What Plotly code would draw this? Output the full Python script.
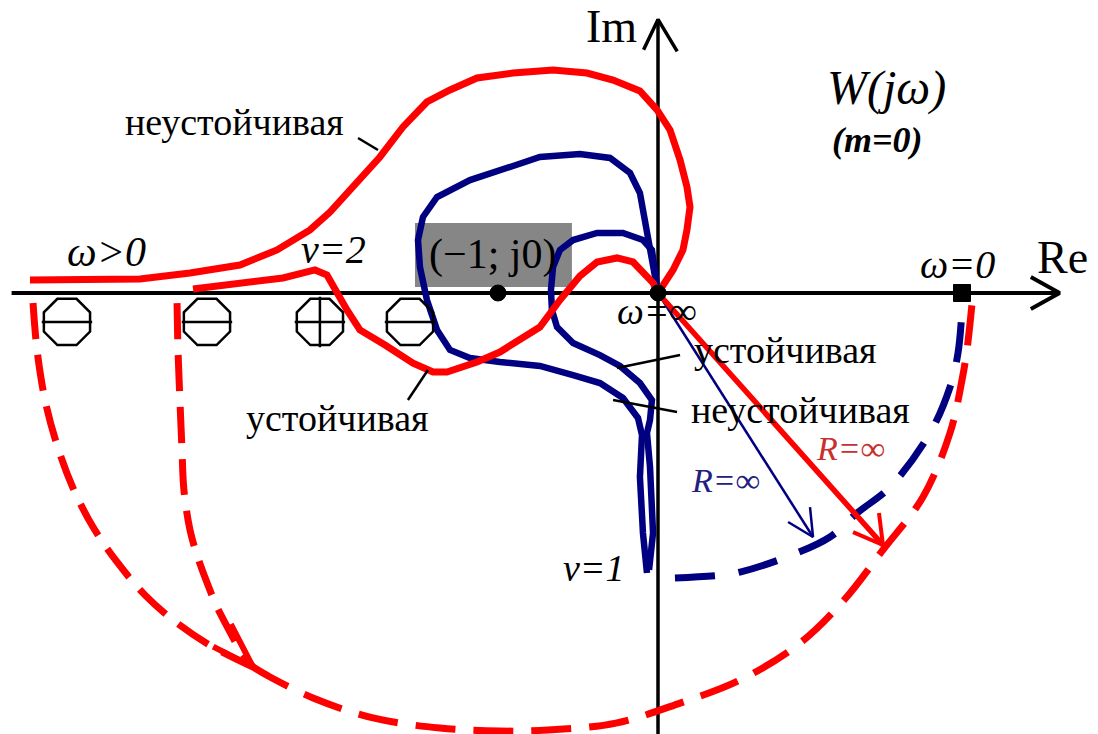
import plotly.graph_objects as go

# ---- Nyquist plot W(jw), m = 0 : curves in Re / Im units ----

# red, unstable (omega > 0 branch coming from the left, big upper loop)
red_unstable_re = [-3.925, -3.55, -3.238, -2.925, -2.613, -2.381, -2.175, -2.05, -1.819, -1.738,
                   -1.594, -1.444, -1.3, -1.131, -0.906, -0.656, -0.444, -0.281, -0.113, -0.006,
                   0.075, 0.138, 0.181, 0.2, 0.181, 0.156, 0.094, 0.0]
red_unstable_im = [0.081, 0.088, 0.088, 0.125, 0.175, 0.269, 0.394, 0.506, 0.769, 0.85,
                   1.038, 1.194, 1.269, 1.344, 1.375, 1.394, 1.375, 1.331, 1.263, 1.144,
                   1.019, 0.831, 0.663, 0.538, 0.394, 0.269, 0.144, 0.0]

# red, stable (nu = 2)
red_stable_re = [-2.906, -2.656, -2.344, -2.144, -2.069, -1.944, -1.863, -1.706, -1.531, -1.406,
                 -1.319, -1.131, -0.988, -0.738, -0.613, -0.488, -0.381, -0.256, -0.156, -0.031, 0.0]
red_stable_im = [0.025, 0.056, 0.094, 0.144, 0.113, -0.106, -0.231, -0.325, -0.438, -0.494,
                 -0.494, -0.431, -0.369, -0.213, -0.044, 0.106, 0.194, 0.219, 0.194, 0.063, 0.0]

# blue, unstable (nu = 1, big loop)
blue_unstable_re = [0.0, -0.038, -0.069, -0.113, -0.175, -0.3, -0.488, -0.738, -0.906, -1.175,
                    -1.381, -1.469, -1.5, -1.488, -1.444, -1.381, -1.3, -1.175, -0.988, -0.738,
                    -0.531, -0.363, -0.219, -0.125, -0.1, -0.113, -0.094, -0.069]
blue_unstable_im = [0.0, 0.206, 0.413, 0.625, 0.75, 0.844, 0.869, 0.85, 0.794, 0.706,
                    0.6, 0.475, 0.331, 0.163, -0.044, -0.231, -0.356, -0.406, -0.431, -0.456,
                    -0.513, -0.563, -0.656, -0.781, -0.888, -1.15, -1.5, -1.75]

# blue, stable (nu = 1, small loop)
blue_stable_re = [0.0, -0.019, -0.038, -0.094, -0.219, -0.381, -0.531, -0.613, -0.656, -0.669,
                  -0.663, -0.631, -0.531, -0.363, -0.238, -0.113, -0.038, -0.05, -0.069, -0.05,
                  -0.031, -0.056]
blue_stable_im = [0.0, 0.144, 0.269, 0.331, 0.375, 0.375, 0.331, 0.269, 0.163, 0.019,
                  -0.106, -0.213, -0.313, -0.388, -0.456, -0.563, -0.669, -0.794, -0.875, -1.088,
                  -1.5, -1.731]

# closing arcs of infinite radius (dashed)
arc_outer_re = [-3.906, -3.881, -3.831, -3.756, -3.656, -3.531, -3.381, -3.206, -3.006, -2.781,
                -2.531]
arc_outer_im = [-0.063, -0.356, -0.669, -0.95, -1.219, -1.463, -1.681, -1.888, -2.063, -2.213,
                -2.338]
arc_inner_re = [-3.006, -3.0, -2.988, -2.975, -2.963, -2.925, -2.881, -2.825, -2.756, -2.688,
                -2.613, -2.531]
arc_inner_im = [-0.063, -0.356, -0.669, -0.981, -1.231, -1.481, -1.638, -1.794, -1.963, -2.094,
                -2.231, -2.338]
arc_red_re = [-2.531, -2.425, -2.156, -1.781, -1.363, -0.988, -0.688, -0.263, 0.138, 0.513,
              0.888, 1.163, 1.406, 1.656, 1.825, 1.9, 1.931, 1.963]
arc_red_im = [-2.338, -2.4, -2.531, -2.656, -2.719, -2.738, -2.731, -2.688, -2.563, -2.419,
              -2.188, -1.919, -1.606, -1.275, -0.875, -0.544, -0.356, -0.063]
arc_blue_re = [0.106, 0.4, 0.513, 0.788, 1.075, 1.244, 1.45, 1.7, 1.825, 1.875, 1.9]
arc_blue_im = [-1.781, -1.763, -1.744, -1.656, -1.525, -1.375, -1.213, -0.875, -0.588, -0.375, -0.106]

# radius vectors R = inf and their open arrow heads
red_vec_re = [0.0, 1.406]
red_vec_im = [0.0, -1.575]
red_head_re = [1.219, 1.406, 1.381]
red_head_im = [-1.494, -1.575, -1.375]
blue_vec_re = [0.0, 0.969]
blue_vec_im = [0.0, -1.525]
blue_head_re = [0.813, 0.969, 0.95]
blue_head_im = [-1.431, -1.525, -1.338]
arc_head_re = [-2.78, -2.531, -2.67]
arc_head_im = [-2.21, -2.338, -2.07]

# special points: (-1; j0), omega = inf, omega = 0
pts_re = [-1.0, 0.0, 1.9]
pts_im = [0.0, 0.0, 0.0]

# encirclement signs on the negative real axis
sign_re = [-3.694, -2.819, -2.113, -1.55]
sign_im = [-0.181, -0.181, -0.181, -0.181]
sign_kind = ["-", "-", "+", "-"]

# leader lines for the curve labels
leaders = [
    ([-1.875, -1.75], [0.969, 0.894]),
    ([-1.563, -1.438], [-0.669, -0.481]),
    ([-0.256, 0.138], [-0.469, -0.388]),
    ([-0.281, 0.119], [-0.669, -0.744]),
]

RED = "#ff0000"
BLUE = "#000080"
SERIF = "Liberation Serif, Times New Roman, serif"

fig = go.Figure()


def line(xs, ys, color, width, dash="solid", shape="linear"):
    fig.add_trace(go.Scatter(x=xs, y=ys, mode="lines", hoverinfo="skip",
                             line=dict(color=color, width=width, dash=dash, shape=shape)))


# coordinate axes with open arrow heads
line([-4.04, 2.51], [0, 0], "black", 4)
line([2.33, 2.51, 2.33], [0.1, 0, -0.1], "black", 4)
line([0, 0], [-2.8, 1.71], "black", 3.5)
line([-0.09, 0, 0.12], [1.52, 1.71, 1.51], "black", 3.5)

# shaded label box behind (-1; j0)
fig.add_shape(type="rect", x0=-1.519, x1=-0.538, y0=0.038, y1=0.438,
              fillcolor="#868686", line=dict(width=0), layer="below")

# dashed closing arcs
line(arc_outer_re, arc_outer_im, RED, 7, "36px,16px", "spline")
line(arc_inner_re, arc_inner_im, RED, 7, "36px,16px", "spline")
line(arc_red_re, arc_red_im, RED, 7, "40px,18px", "spline")
line(arc_blue_re, arc_blue_im, BLUE, 7, "40px,24px", "spline")
line(arc_head_re, arc_head_im, RED, 6)

# frequency responses
line(blue_unstable_re, blue_unstable_im, BLUE, 6.5)
line(blue_stable_re, blue_stable_im, BLUE, 6.5)
line(red_unstable_re, red_unstable_im, RED, 7)
line(red_stable_re, red_stable_im, RED, 7)

# radius vectors
line(blue_vec_re, blue_vec_im, BLUE, 2.5)
line(blue_head_re, blue_head_im, BLUE, 2.5)
line(red_vec_re, red_vec_im, RED, 5.5)
line(red_head_re, red_head_im, RED, 4)

# leader lines
for lx, ly in leaders:
    line(lx, ly, "black", 2.5)

# special points
fig.add_trace(go.Scatter(x=pts_re, y=pts_im, mode="markers", hoverinfo="skip", opacity=1,
                         marker=dict(color="#000000", size=[16, 16, 17], opacity=1,
                                     symbol=["circle", "circle", "square"],
                                     line=dict(width=1, color="#000000"))))

# encirclement signs: octagon with a minus or plus inside
fig.add_trace(go.Scatter(x=sign_re, y=sign_im, mode="markers", hoverinfo="skip",
                         marker=dict(symbol="octagon-open", size=50, color="black",
                                     line=dict(width=2.5, color="black"))))
fig.add_trace(go.Scatter(
    x=sign_re, y=sign_im, mode="markers", hoverinfo="skip",
    marker=dict(symbol=["line-ew-open" if k == "-" else "cross-thin-open" for k in sign_kind],
                size=36, color="black", line=dict(width=2.5, color="black"))))


def label(x, y, text, size, color="black"):
    fig.add_annotation(x=x, y=y, text=text, showarrow=False, xanchor="center", yanchor="middle",
                       font=dict(family=SERIF, size=size, color=color))


label(-0.288, 1.663, "Im", 46)
label(2.531, 0.219, "Re", 46)
label(1.431, 1.281, "<i>W(jω)</i>", 48)
label(1.369, 0.956, "<b><i>(m=0)</i></b>", 36)
label(-3.444, 0.256, "<i>ω&gt;0</i>", 42)
label(-2.031, 0.269, "<i>ν=2</i>", 40)
label(-1.031, 0.238, "(−1; j0)", 42)
label(-0.006, -0.113, "<i>ω=∞</i>", 38)
label(1.869, 0.181, "<i>ω=0</i>", 40)
label(-0.4, -1.719, "<i>ν=1</i>", 38)
label(0.419, -1.169, "<i>R=∞</i>", 34, "#202080")
label(1.2, -0.969, "<i>R=∞</i>", 34, "#c83030")
label(-2.644, 1.069, "неустойчивая", 38)
label(-2.006, -0.781, "устойчивая", 38)
label(0.794, -0.356, "устойчивая", 38)
label(0.888, -0.731, "неустойчивая", 38)

fig.update_layout(
    width=1098, height=734, margin=dict(l=0, r=0, t=0, b=0),
    paper_bgcolor="white", plot_bgcolor="white", showlegend=False,
    xaxis=dict(range=[-4.1125, 2.75], visible=False, fixedrange=True),
    yaxis=dict(range=[-2.75625, 1.83125], visible=False, fixedrange=True),
)

fig.write_html("out.html")
